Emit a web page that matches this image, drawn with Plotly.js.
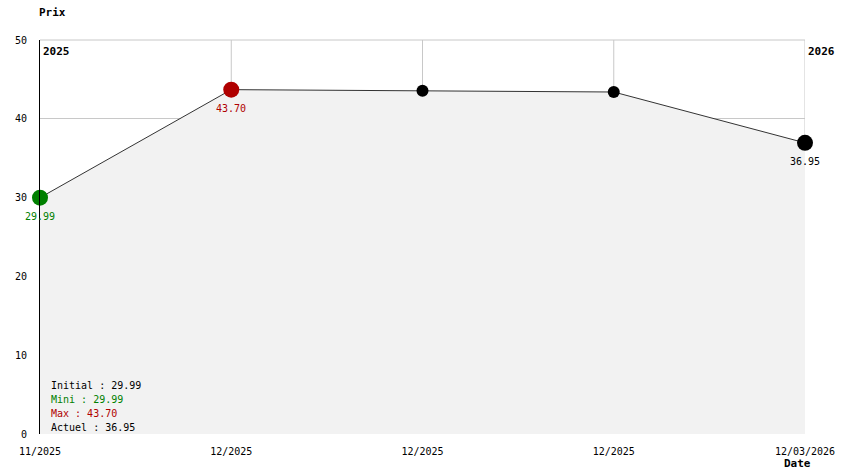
<!DOCTYPE html>
<html><head><meta charset="utf-8">
<script src="https://cdn.plot.ly/plotly-3.0.1.min.js"></script>
<style>html,body{margin:0;padding:0;background:#fff}#chart{width:844px;height:474px}</style>
</head><body><div id="chart"></div>
<script>
var xIndex = [0, 1, 2, 3, 4];
var tickLabels = ["11/2025", "12/2025", "12/2025", "12/2025", "12/03/2026"];
var prices = [29.99, 43.70, 43.55, 43.40, 36.95];
var markerColors = ["#008000", "#b00000", "#000000", "#000000", "#000000"];
var markerSizes = [16, 16, 12, 12, 16];
var labelIdx = [0, 1, 4];
var statLines = ["Initial : 29.99", "Mini : 29.99", "Max : 43.70", "Actuel : 36.95"];
var statColors = ["#000000", "#008000", "#b00000", "#000000"];

var mono = "DejaVu Sans Mono, Liberation Mono, monospace";
var gridColor = "#c8c8c8";

var traces = [{
  x: xIndex, y: prices, type: "scatter", mode: "lines",
  fill: "tozeroy", fillcolor: "#f2f2f2",
  line: {color: "#333333", width: 1},
  hoverinfo: "skip"
}, {
  x: xIndex, y: prices, type: "scatter", mode: "markers", cliponaxis: false,
  marker: {color: markerColors, size: markerSizes, opacity: 1, line: {width: 0}},
  hoverinfo: "skip"
}];

var ann = [];
labelIdx.forEach(function(i){
  ann.push({x: xIndex[i], y: prices[i], xref: "x", yref: "y", text: prices[i].toFixed(2),
    showarrow: false, yshift: -19, font: {family: mono, size: 10, color: markerColors[i]}});
});
statLines.forEach(function(t, k){
  ann.push({x: (49 - 40) / 765, y: (434 - (385 + 14*k)) / 394, xref: "paper", yref: "paper", text: t, showarrow: false,
    xanchor: "left", yanchor: "middle", font: {family: mono, size: 10, color: statColors[k]}});
});
ann.push({x: 0, y: 1, xref: "paper", yref: "paper", text: "<b>2025</b>", showarrow: false,
  xanchor: "left", yanchor: "top", xshift: 1, yshift: -3, font: {family: mono, size: 11, color: "#000"}});
ann.push({x: 1, y: 1, xref: "paper", yref: "paper", text: "<b>2026</b>", showarrow: false,
  xanchor: "left", yanchor: "top", xshift: 1, yshift: -3, font: {family: mono, size: 11, color: "#000"}});
ann.push({x: 0, y: 1, xref: "paper", yref: "paper", text: "<b>Prix</b>", showarrow: false,
  xanchor: "left", yanchor: "middle", xshift: -3, yshift: 28, font: {family: mono, size: 11, color: "#000"}});
ann.push({x: 1, y: 0, xref: "paper", yref: "paper", text: "<b>Date</b>", showarrow: false,
  xanchor: "left", yanchor: "middle", xshift: -23, yshift: -29, font: {family: mono, size: 11, color: "#000"}});

var shapes = [{type: "line", xref: "paper", yref: "paper", x0: 0, x1: 1, y0: 1, y1: 1,
  line: {color: gridColor, width: 1}, layer: "below"}];
xIndex.forEach(function(xv, i){
  if (i === 0) return;
  var last = (i === xIndex.length - 1);
  shapes.push({type: "line", xref: "x", yref: "y", x0: xv, x1: xv,
    y0: last ? prices[i] : 0, y1: 50, line: {color: gridColor, width: 1}, layer: "below"});
});

var layout = {
  width: 844, height: 474,
  margin: {l: 40, r: 39, t: 40, b: 40},
  paper_bgcolor: "#ffffff", plot_bgcolor: "#ffffff",
  showlegend: false,
  font: {family: mono, size: 10, color: "#000"},
  xaxis: {range: [0, 4], tickvals: xIndex, ticktext: tickLabels, showgrid: false,
    zeroline: false, showline: false, ticks: "",
    ticklabelstandoff: 10, tickfont: {family: mono, size: 10, color: "#000"}, fixedrange: true},
  yaxis: {range: [0, 50], dtick: 10, showgrid: true, gridcolor: gridColor, gridwidth: 1,
    zeroline: false, showline: true, linecolor: "#000", linewidth: 1, ticks: "",
    ticklabelstandoff: 10, tickfont: {family: mono, size: 10, color: "#000"}, fixedrange: true},
  shapes: shapes,
  annotations: ann
};
Plotly.newPlot("chart", traces, layout, {displayModeBar: false, staticPlot: true});
</script></body></html>
